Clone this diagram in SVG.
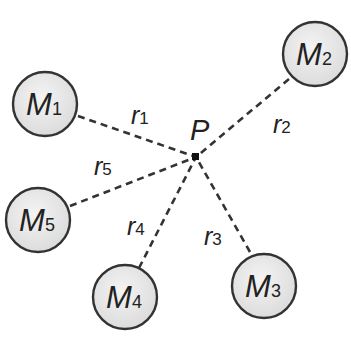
<svg xmlns="http://www.w3.org/2000/svg" width="351" height="337" viewBox="0 0 351 337">
<defs>
<radialGradient id="g" cx="0.45" cy="0.4" r="0.6">
<stop offset="0" stop-color="#f4f4f4"/>
<stop offset="1" stop-color="#dcdcdc"/>
</radialGradient>
</defs>
<style>
.n circle{fill:url(#g);stroke:#333;stroke-width:2.4}
.n text{font-family:"Liberation Sans",Arial,sans-serif;font-style:italic;font-size:31px;fill:#222;text-anchor:middle}
.n tspan.s{font-size:18px;font-style:normal}
.c line{stroke:#333;stroke-width:2.6;stroke-dasharray:7,5}
.l{font-family:"Liberation Sans",Arial,sans-serif;font-style:italic;font-size:25px;fill:#222}
.l tspan{font-size:17px;font-style:normal}
</style>
<rect width="351" height="337" fill="#fff"/>
<g class="c" id="connectors">
<line x1="78" y1="116" x2="196" y2="157"/>
<line x1="289" y1="79" x2="196" y2="157"/>
<line x1="70" y1="206" x2="196" y2="157"/>
<line x1="139" y1="268" x2="196" y2="157"/>
<line x1="250" y1="252" x2="196" y2="157"/>
</g>
<g id="P">
<rect x="192" y="153" width="7" height="7" fill="#111"/>
<text class="l" x="190" y="140" style="font-size:29px">P</text>
</g>
<g id="M1" class="n"><circle cx="45" cy="104" r="32"/><text x="44" y="115">M<tspan class="s">1</tspan></text></g>
<g id="M2" class="n"><circle cx="315" cy="54" r="32"/><text x="314" y="65">M<tspan class="s">2</tspan></text></g>
<g id="M3" class="n"><circle cx="264" cy="286" r="32"/><text x="263" y="297">M<tspan class="s">3</tspan></text></g>
<g id="M4" class="n"><circle cx="125" cy="297" r="32"/><text x="124" y="308">M<tspan class="s">4</tspan></text></g>
<g id="M5" class="n"><circle cx="38" cy="220" r="32"/><text x="37" y="231">M<tspan class="s">5</tspan></text></g>
<g id="labels">
<text class="l" x="131" y="124">r<tspan>1</tspan></text>
<text class="l" x="273" y="133">r<tspan>2</tspan></text>
<text class="l" x="204" y="245">r<tspan>3</tspan></text>
<text class="l" x="127" y="235">r<tspan>4</tspan></text>
<text class="l" x="94" y="175">r<tspan>5</tspan></text>
</g>
</svg>
